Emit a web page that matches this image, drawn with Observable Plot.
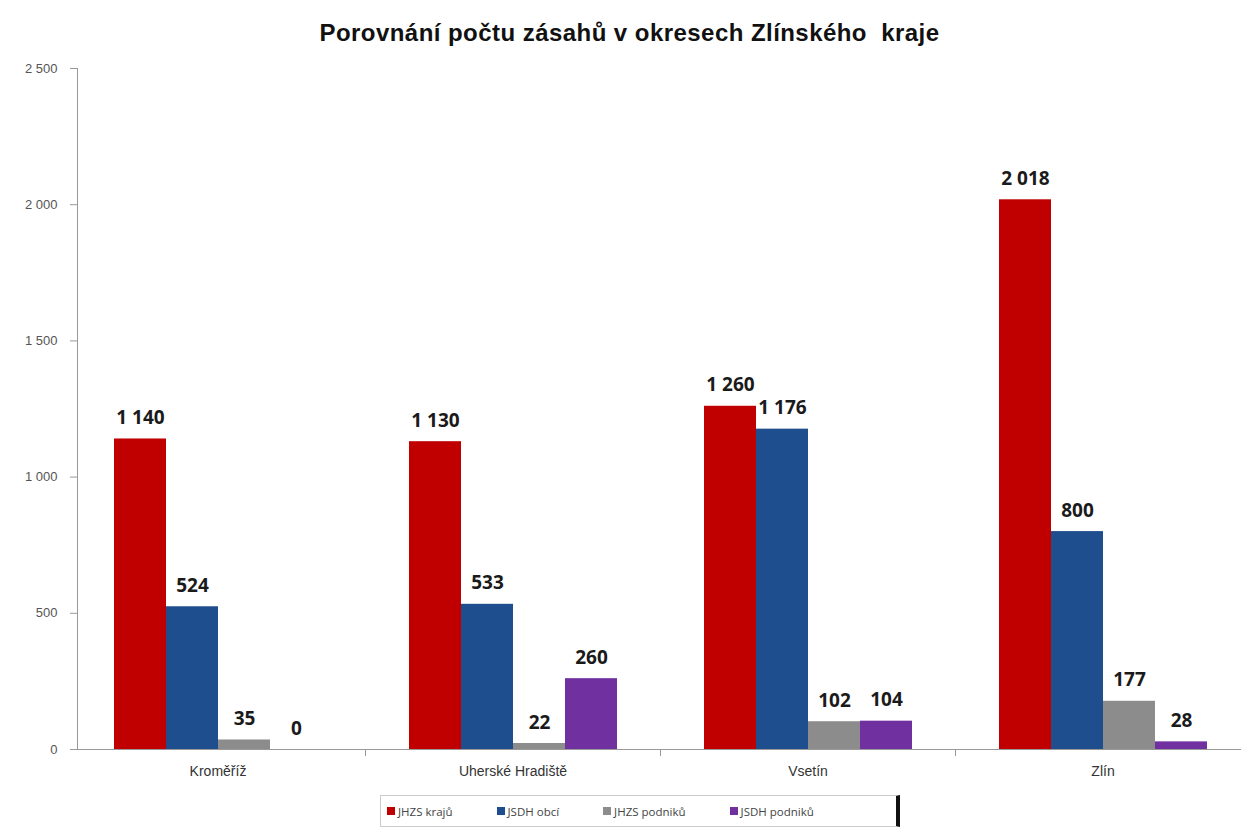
<!DOCTYPE html>
<html><head><meta charset="utf-8">
<script src="https://cdn.jsdelivr.net/npm/d3@7"></script>
<script src="https://cdn.jsdelivr.net/npm/@observablehq/plot@0.6"></script>
<style>
body{margin:0;background:#fff;width:1241px;overflow:hidden;font-family:"Liberation Sans",Arial,sans-serif;}
#title{height:55px;line-height:66px;text-align:center;color:#111;white-space:nowrap;}
#title span{display:inline-block;font-family:"Liberation Sans",Arial,sans-serif;font-weight:bold;font-size:24px;letter-spacing:0.45px;margin-left:18px;}
#chart{width:1241px;overflow:hidden;height:735px;}
#legend{margin:5px 0 0 380px;width:520px;height:32px;border:1px solid #ccc;border-right:4px solid #111;display:flex;align-items:center;gap:44px;font-family:"Open Sans","Liberation Sans",sans-serif;font-size:11.5px;color:#444;box-sizing:border-box;padding:0 0 0 6px;}
#legend span.sw{display:inline-block;width:8px;height:8px;margin-right:3px;vertical-align:middle;position:relative;top:-1px;}
</style></head>
<body>
<div id="title"><span id="tt">Porovnání počtu zásahů v okresech Zlínského&nbsp; kraje</span></div>
<div id="chart"></div>
<div id="legend"></div>
<script>
const districts = ["Kroměříž", "Uherské Hradiště", "Vsetín", "Zlín"];
const seriesNames = ["JHZS krajů", "JSDH obcí", "JHZS podniků", "JSDH podniků"];
const seriesColors = ["#c00000", "#1f4e8f", "#8c8c8c", "#7030a0"];
const jhzsKraju   = [1140, 1130, 1260, 2018];
const jsdhObci    = [524, 533, 1176, 800];
const jhzsPodniku = [35, 22, 102, 177];
const jsdhPodniku = [0, 260, 104, 28];
const yTicks = [0, 500, 1000, 1500, 2000, 2500];

const seriesValues = [jhzsKraju, jsdhObci, jhzsPodniku, jsdhPodniku];
const data = [];
districts.forEach((d, i) => seriesValues.forEach((vals, s) => data.push({district: d, series: seriesNames[s], value: vals[i]})));

const fmt = d3.formatLocale({decimal: ",", thousands: "\u00a0", grouping: [3], currency: ["", ""]}).format(",d");

const chart = Plot.plot({
  width: 1250,
  height: 735,
  marginLeft: 70,
  marginRight: 0,
  marginTop: 13,
  marginBottom: 41,
  style: {fontFamily: "'Liberation Sans', Arial, sans-serif", fontSize: "13px", background: "#fff", maxWidth: "none"},
  fx: {domain: districts, padding: 0, label: null, axis: null},
  x: {domain: seriesNames, paddingInner: 0, paddingOuter: 0.8, axis: null},
  y: {domain: [0, 2500], label: null, axis: null},
  color: {domain: seriesNames, range: seriesColors},
  marks: [
    Plot.axisY({ticks: yTicks, tickFormat: fmt, tickSize: 7, tickPadding: 13, dx: 7, fontSize: 13, stroke: "#999", color: "#555", label: null}),
    Plot.axisFx({anchor: "bottom", tickSize: 0, tickPadding: 17, fontSize: 14, color: "#333", label: null}),
    Plot.frame({anchor: "left", facetAnchor: "left", dx: 7, stroke: "#999"}),
    Plot.barY(data, {fx: "district", x: "series", y: "value", fill: "series"}),
    Plot.ruleY([0], {stroke: "#999"}),
    Plot.frame({anchor: "right", stroke: "#999", insetTop: 681, insetBottom: -6}),
    Plot.text(data, {fx: "district", x: "series", y: "value", text: d => fmt(d.value), lineAnchor: "bottom", dy: -15,
      fontSize: 19, fontWeight: "bold", fill: "#1a1a1a", fontFamily: "'Open Sans', 'Liberation Sans', sans-serif"})
  ]
});
document.getElementById("chart").appendChild(chart);

const leg = document.getElementById("legend");
seriesNames.forEach((n, i) => {
  const it = document.createElement("div");
  it.innerHTML = `<span class="sw" style="background:${seriesColors[i]}"></span>${n}`;
  leg.appendChild(it);
});
</script>
</body></html>
